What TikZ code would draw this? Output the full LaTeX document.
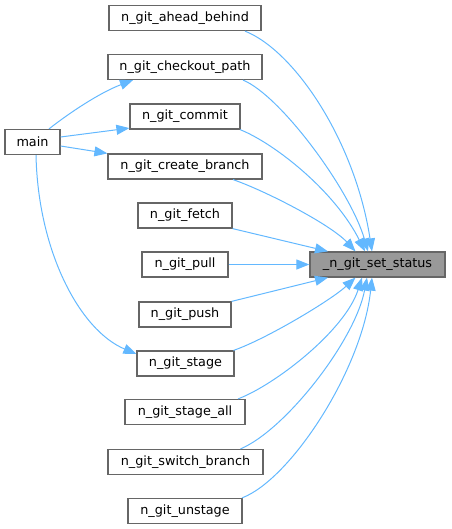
\documentclass[tikz,border=0pt]{standalone}
\usepackage{fontspec}
\setmainfont{DejaVu Sans}
\usetikzlibrary{arrows.meta}
\definecolor{edgeblue}{HTML}{63B8FF}
\definecolor{boxgray}{HTML}{666666}
\definecolor{hlgray}{HTML}{999999}
\begin{document}
\begin{tikzpicture}[x=1pt,y=-1pt,
  fnbox/.style={draw=boxgray,line width=1.2pt,fill=white,rectangle,inner sep=0pt,minimum height=25pt,
    font=\fontsize{12.8}{15}\selectfont,text=black},
  hlbox/.style={fnbox,fill=hlgray},
  edge/.style={draw=edgeblue,line width=1pt,-{Triangle[length=13pt,width=10pt]}}]
\useasboundingbox (0,0) rectangle (451,529);
\node[fnbox,minimum width=152pt] (ab) at (185,18) {n\_git\_ahead\_behind};
\node[fnbox,minimum width=154pt] (cp) at (185,67) {n\_git\_checkout\_path};
\node[fnbox,minimum width=110pt] (cm) at (185,116.5) {n\_git\_commit};
\node[fnbox,minimum width=55pt] (mn) at (32.5,142) {main};
\node[fnbox,minimum width=154pt] (cb) at (185,166.5) {n\_git\_create\_branch};
\node[fnbox,minimum width=94pt] (fe) at (185,215.5) {n\_git\_fetch};
\node[fnbox,minimum width=86pt] (pl) at (185,264.5) {n\_git\_pull};
\node[hlbox,minimum width=135pt] (ss) at (377.5,264.5) {\_n\_git\_set\_status};
\node[fnbox,minimum width=92pt] (ps) at (185,314.5) {n\_git\_push};
\node[fnbox,minimum width=97pt] (st) at (185.5,363.5) {n\_git\_stage};
\node[fnbox,minimum width=120pt] (sa) at (185,412) {n\_git\_stage\_all};
\node[fnbox,minimum width=155pt] (sw) at (185.5,462) {n\_git\_switch\_branch};
\node[fnbox,minimum width=114pt] (us) at (185,511) {n\_git\_unstage};
% edges into _n_git_set_status
\draw[edge] ([xshift=60pt]ab.south) .. controls +(50,20) and +(-17,-110) .. ([xshift=-5.5pt]ss.north);
\draw[edge] ([xshift=58pt]cp.south) .. controls +(37,15) and +(-18,-62) .. ([xshift=-9.5pt]ss.north);
\draw[edge] ([xshift=55pt]cm.south) .. controls +(35,14) and +(-30,-60) .. ([xshift=-12.5pt]ss.north);
\draw[edge] ([xshift=48pt]cb.south) .. controls +(32,11) and +(-25,-27) .. ([xshift=-22pt]ss.north);
\draw[edge] (fe.south east) -- ([xshift=-49.5pt]ss.north);
\draw[edge] (pl.east) -- (ss.west);
\draw[edge] (ps.north east) -- ([xshift=-49.5pt]ss.south);
\draw[edge] ([xshift=48pt]st.north) .. controls +(32,-11) and +(-25,23) .. ([xshift=-22pt]ss.south);
\draw[edge] ([xshift=53pt]sa.north) .. controls +(37,-14) and +(-17,53) .. ([xshift=-15.5pt]ss.south);
\draw[edge] ([xshift=55pt]sw.north) .. controls +(45,-19) and +(-12,63) .. ([xshift=-10.5pt]ss.south);
\draw[edge] ([xshift=57pt]us.north) .. controls +(48,-18) and +(-10,93) .. ([xshift=-5.5pt]ss.south);
% edges from main
\draw[edge] ([xshift=16.5pt]mn.north) .. controls +(21,-16.5) and +(-33,12.5) .. ([xshift=-52pt]cp.south);
\draw[edge] ([yshift=5pt]mn.east) -- ([yshift=1.5pt]cm.south west);
\draw[edge] ([yshift=-4pt]mn.east) -- (cb.north west);
\draw[edge] ([xshift=3.5pt]mn.south) .. controls +(2,95.5) and +(-57,-24) .. ([yshift=9.5pt]st.west);
\end{tikzpicture}
\end{document}
